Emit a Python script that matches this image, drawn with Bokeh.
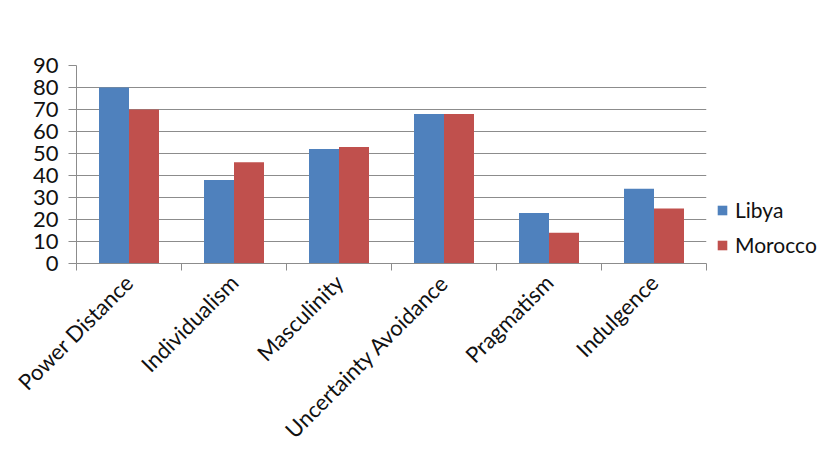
from math import pi
from bokeh.plotting import figure
from bokeh.models import ColumnDataSource, Range1d, FixedTicker, Legend, LegendItem
from bokeh.transform import dodge
from bokeh.embed import file_html
from bokeh.resources import INLINE

categories = ["Power Distance", "Individualism", "Masculinity",
              "Uncertainty Avoidance", "Pragmatism", "Indulgence"]
libya = [80, 38, 52, 68, 23, 34]
morocco = [70, 46, 53, 68, 14, 25]
y_ticks = [0, 10, 20, 30, 40, 50, 60, 70, 80, 90]

FONT = "Lato"
BLUE = "#4F81BD"
RED = "#C0504D"
GRID = "#8c8c8c"

pos = [i + 0.5 for i in range(len(categories))]
src = ColumnDataSource(dict(x=pos, libya=libya, morocco=morocco, cat=categories))

p = figure(frame_width=630, frame_height=198, output_backend="svg", toolbar_location=None,
           x_range=Range1d(0, len(categories)), y_range=Range1d(0, 90),
           min_border_left=76, min_border_right=124, min_border_top=65,
           min_border_bottom=193)
p.outline_line_color = None
p.background_fill_color = "white"
p.border_fill_color = "white"

bw = 30 / 105
r1 = p.vbar(x=dodge("x", -bw / 2, range=p.x_range), top="libya", width=bw,
            source=src, fill_color=BLUE, line_color=None)
r2 = p.vbar(x=dodge("x", bw / 2, range=p.x_range), top="morocco", width=bw,
            source=src, fill_color=RED, line_color=None)

# y axis
p.yaxis.ticker = FixedTicker(ticks=y_ticks)
p.yaxis.axis_line_color = GRID
p.yaxis.major_tick_line_color = GRID
p.yaxis.major_tick_out = 8
p.yaxis.major_tick_in = 0
p.yaxis.minor_tick_line_color = None
p.yaxis.major_label_text_font = FONT
p.yaxis.major_label_text_font_size = "22px"
p.yaxis.major_label_text_color = "#111111"
p.yaxis.major_label_standoff = 10

# x axis
p.xaxis.ticker = FixedTicker(ticks=pos, minor_ticks=list(range(len(categories) + 1)))
p.xaxis.major_label_overrides = {x: c for x, c in zip(pos, categories)}
p.xaxis.major_label_orientation = pi / 4
p.xaxis.axis_line_color = GRID
p.xaxis.major_tick_line_color = None
p.xaxis.minor_tick_line_color = GRID
p.xaxis.minor_tick_out = 7
p.xaxis.minor_tick_in = 0
p.xaxis.major_label_text_font = FONT
p.xaxis.major_label_text_font_size = "22px"
p.xaxis.major_label_text_color = "#111111"
p.xaxis.major_label_standoff = 8

p.xgrid.grid_line_color = None
p.ygrid.grid_line_color = GRID
p.ygrid.ticker = FixedTicker(ticks=y_ticks)

legend = Legend(items=[LegendItem(label="Libya", renderers=[r1]),
                       LegendItem(label="Morocco", renderers=[r2])],
                location=(10, 6), orientation="vertical")
legend.label_text_font = FONT
legend.label_text_font_size = "21px"
legend.label_text_color = "#111111"
legend.glyph_width = 12
legend.glyph_height = 12
legend.spacing = 10
legend.padding = 0
legend.margin = 0
legend.border_line_color = None
legend.background_fill_alpha = 0
legend.label_standoff = 7
p.add_layout(legend, "right")

open("out.html", "w").write(file_html(p, INLINE))
